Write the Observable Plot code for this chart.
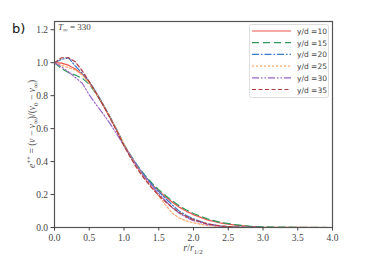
<!DOCTYPE html>
<html><head><meta charset="utf-8">
<script src="https://cdn.jsdelivr.net/npm/d3@7"></script>
<script src="https://cdn.jsdelivr.net/npm/@observablehq/plot@0.6"></script>
<style>
body{margin:0;background:#fff}
#c{position:relative;width:378px;height:280px}
#c svg text{font-family:'Liberation Serif','DejaVu Serif',serif !important;}
#c svg text.sans{font-family:'DejaVu Sans',sans-serif !important;}
</style>
</head><body><div id="c"></div>
<script>
const r = [0,0.1,0.2,0.3,0.4,0.5,0.6,0.7,0.8,0.9,1.0,1.1,1.2,1.3,1.4,1.5,1.6,1.7,1.8,1.9,2.0,2.2,2.4,2.6,2.8,3.0,3.5,4.0];
const yd10 = [1.000,0.997,0.985,0.962,0.930,0.880,0.815,0.740,0.665,0.585,0.500,0.430,0.365,0.310,0.262,0.222,0.185,0.152,0.122,0.098,0.078,0.046,0.026,0.014,0.007,0.003,0.0005,0];
const yd15 = [1.000,0.965,0.940,0.925,0.905,0.870,0.810,0.745,0.670,0.590,0.505,0.435,0.372,0.318,0.270,0.230,0.193,0.160,0.130,0.106,0.085,0.052,0.030,0.017,0.008,0.004,0.001,0];
const yd20 = [1.000,1.020,1.030,0.980,0.935,0.885,0.820,0.748,0.670,0.588,0.500,0.432,0.368,0.312,0.262,0.218,0.175,0.135,0.098,0.072,0.052,0.022,0.008,0.003,0.001,0,0,0];
const yd25 = [1.000,0.985,0.970,0.955,0.925,0.875,0.815,0.745,0.668,0.590,0.505,0.430,0.360,0.300,0.245,0.190,0.135,0.085,0.056,0.040,0.028,0.012,0.004,0.001,0,0,0,0];
const yd30 = [1.000,0.975,0.945,0.910,0.875,0.805,0.745,0.690,0.630,0.565,0.495,0.430,0.365,0.305,0.252,0.205,0.160,0.118,0.085,0.060,0.042,0.018,0.006,0.002,0.0005,0,0,0];
const yd35 = [1.000,1.030,1.030,1.005,0.950,0.885,0.815,0.742,0.665,0.582,0.495,0.420,0.350,0.292,0.240,0.195,0.155,0.120,0.090,0.066,0.048,0.022,0.009,0.003,0.001,0,0,0];
const seriesLabels = ["y/d =10","y/d =15","y/d =20","y/d =25","y/d =30","y/d =35"];
const seriesValues = [yd10,yd15,yd20,yd25,yd30,yd35];
const xTicks = [0,0.5,1,1.5,2,2.5,3,3.5,4];
const yTicks = [0,0.2,0.4,0.6,0.8,1.0,1.2];

const colors = ["#f0544c","#2b9a5c","#3a7bd0","#ffa86a","#9a66c8","#b03a3a"];
const dashes = [null,"7,4","7,2,1.5,2","2,2","7,2,1.5,2,1.5,2","4,2.5"];

const data = seriesLabels.map((s,i)=>r.map((x,j)=>({r:x, v:seriesValues[i][j], s})));

const plot = Plot.plot({
  width:378, height:280,
  marginLeft:54, marginRight:46, marginTop:21, marginBottom:53,
  style:{background:"#fff", fontSize:"9.5px", color:"#444"},
  x:{domain:[0,4]},
  y:{domain:[0,1.25]},
  marks:[
    ...data.map((d,i)=>Plot.line(d,{x:"r",y:"v",stroke:colors[i],strokeWidth:1.2,strokeDasharray:dashes[i],curve:"linear"})),
    Plot.frame({stroke:"#555",strokeWidth:1.2}),
    Plot.axisX({ticks:xTicks,tickFormat:d3.format(".1f"),tickSize:3.5,tickPadding:3,label:null,stroke:"#444"}),
    Plot.axisY({ticks:yTicks,tickFormat:d3.format(".1f"),tickSize:3.5,tickPadding:3,label:null,stroke:"#444"})
  ]
});
document.getElementById("c").appendChild(plot);

const svg = d3.select(plot);
// axis labels
const xl = svg.append("text").attr("x",193).attr("y",251).attr("text-anchor","middle")
  .style("font-size","10px").attr("fill","#444");
xl.append("tspan").style("font-style","italic").text("r");
xl.append("tspan").text("/");
xl.append("tspan").style("font-style","italic").text("r");
xl.append("tspan").style("font-size","7px").attr("dy",2.5).text("1/2");

const yl = svg.append("text").attr("transform","translate(35,124) rotate(-90)").attr("text-anchor","middle")
  .style("font-size","9.5px").attr("fill","#444");
yl.append("tspan").style("font-style","italic").text("e");
yl.append("tspan").style("font-size","7px").attr("dy",-4).text("++");
yl.append("tspan").attr("dy",4).text(" = (");
yl.append("tspan").style("font-style","italic").text("v");
yl.append("tspan").text(" − ");
yl.append("tspan").style("font-style","italic").text("v");
yl.append("tspan").style("font-size","7px").attr("dy",2.5).text("∞");
yl.append("tspan").attr("dy",-2.5).text(")/(");
yl.append("tspan").style("font-style","italic").text("v");
yl.append("tspan").style("font-size","7px").attr("dy",2.5).text("0");
yl.append("tspan").attr("dy",-2.5).text(" − ");
yl.append("tspan").style("font-style","italic").text("v");
yl.append("tspan").style("font-size","7px").attr("dy",2.5).text("∞");
yl.append("tspan").attr("dy",-2.5).text(")");

// T label
const tl = svg.append("text").attr("x",58).attr("y",30).attr("text-anchor","start").style("font-size","9px").attr("fill","#444");
tl.append("tspan").style("font-style","italic").text("T");
tl.append("tspan").style("font-size","6.5px").attr("dy",2).text("∞");
tl.append("tspan").attr("dy",-2).text(" = 330");

// panel label
svg.append("text").attr("class","sans").attr("x",12).attr("y",33).attr("text-anchor","start").style("font-size","13px").attr("fill","#111").text("b)");

// legend
const lg = svg.append("g");
lg.append("rect").attr("x",249.5).attr("y",24.5).attr("width",79).attr("height",73).attr("rx",2)
  .attr("fill","#fff").attr("stroke","#ddd").attr("stroke-width",1);
seriesLabels.forEach((s,i)=>{
  const y = 31 + i*11.7;
  lg.append("line").attr("x1",252).attr("x2",291).attr("y1",y).attr("y2",y)
    .attr("stroke",colors[i]).attr("stroke-width",1.2).attr("stroke-dasharray",dashes[i]);
  lg.append("text").attr("class","sans").attr("x",297).attr("y",y+3).attr("text-anchor","start")
    .style("font-size","7.5px").attr("fill","#444").text(s);
});
</script></body></html>
